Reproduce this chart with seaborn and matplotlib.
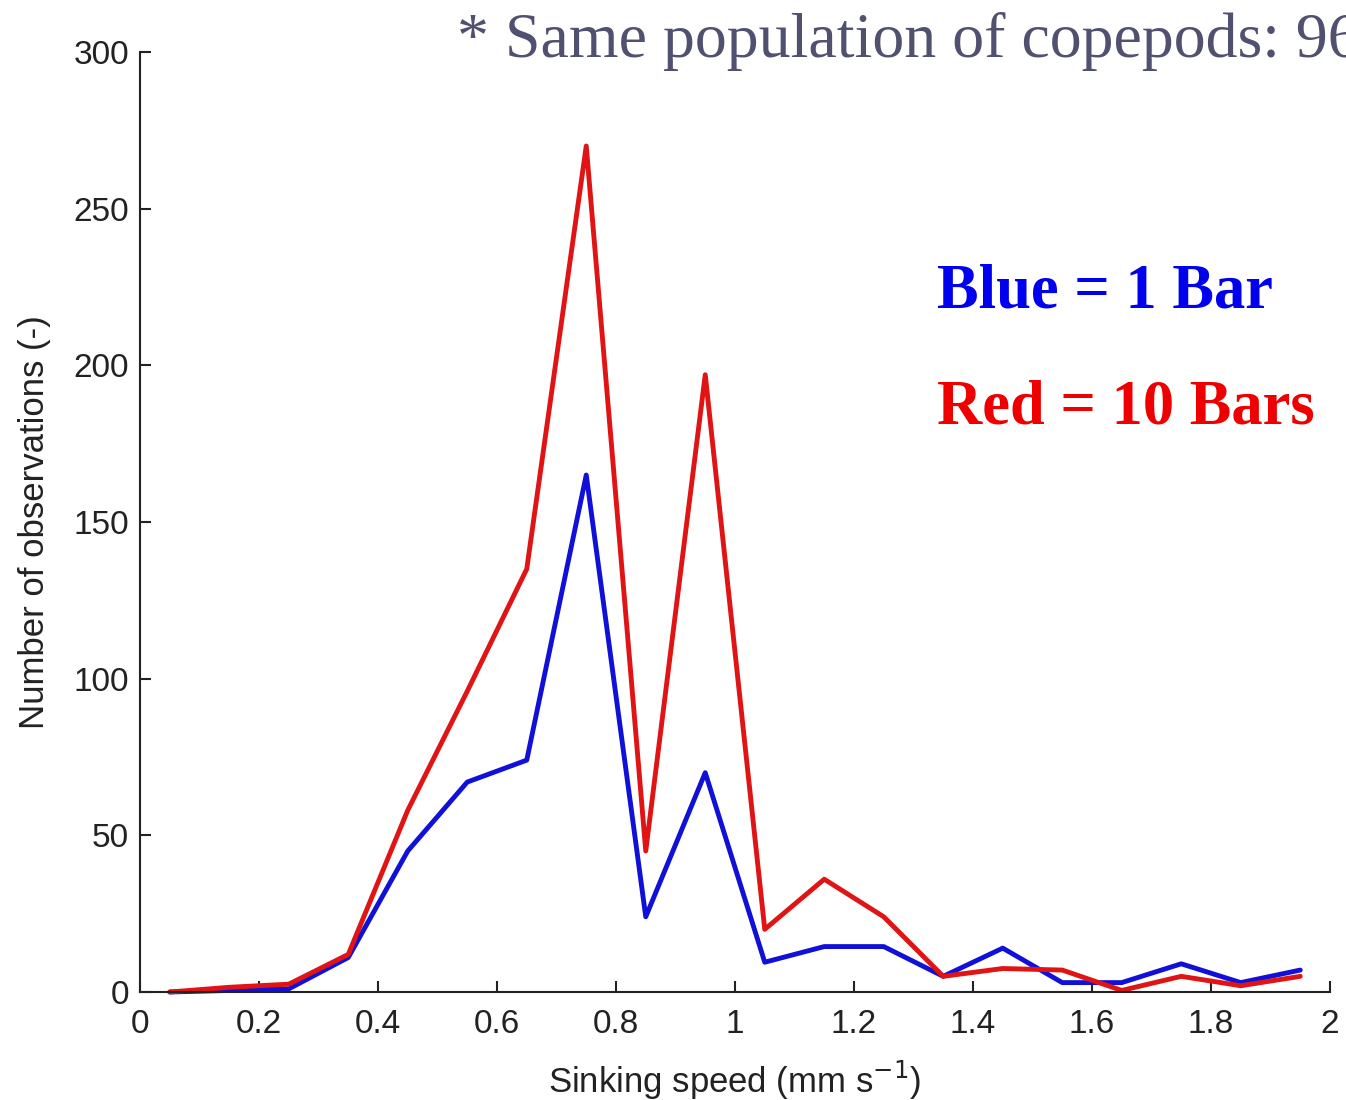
import numpy as np
import pandas as pd
import matplotlib
matplotlib.use("Agg")
import matplotlib.pyplot as plt
import seaborn as sns

speed = [0.05, 0.15, 0.25, 0.35, 0.45, 0.55, 0.65, 0.75, 0.85, 0.95,
         1.05, 1.15, 1.25, 1.35, 1.45, 1.55, 1.65, 1.75, 1.85, 1.95]
blue_1bar = [0, 0.5, 1, 11, 45, 67, 74, 165, 24, 70,
             9.5, 14.5, 14.5, 5, 14, 3, 3, 9, 3, 7]
red_10bars = [0, 1.5, 2.5, 12, 58, 96, 135, 270, 45, 197,
              20, 36, 24, 5, 7.5, 7, 0.5, 5, 2, 5]
series_names = ["1 Bar", "10 Bars"]
xticks = [0, 0.2, 0.4, 0.6, 0.8, 1, 1.2, 1.4, 1.6, 1.8, 2]
xtick_labels = ["0", "0.2", "0.4", "0.6", "0.8", "1", "1.2", "1.4", "1.6", "1.8", "2"]
yticks = [0, 50, 100, 150, 200, 250, 300]

df = pd.DataFrame({
    "speed": speed * 2,
    "count": blue_1bar + red_10bars,
    "series": [series_names[0]] * len(speed) + [series_names[1]] * len(speed),
})

sns.set_style("ticks")
plt.rcParams['font.family'] = ['Liberation Sans', 'DejaVu Sans']
plt.rcParams['xtick.direction'] = 'in'
plt.rcParams['ytick.direction'] = 'in'

fig = plt.figure(figsize=(13.46, 11), dpi=100)
ax = fig.add_axes([140/1346, 108/1100, 1190/1346, 940/1100])

sns.lineplot(data=df, x="speed", y="count", hue="series",
             palette={"1 Bar": "#1010d8", "10 Bars": "#e01414"},
             linewidth=3.5, legend=False, ax=ax, clip_on=False)

ax.set_xlim(0, 2)
ax.set_ylim(0, 300)
ax.set_xticks(xticks)
ax.set_xticklabels(xtick_labels)
ax.set_yticks(yticks)
ax.tick_params(axis='both', labelsize=24, length=8, width=1.5, colors='#222222',
               direction='in')
ax.tick_params(axis='x', pad=12)
ax.tick_params(axis='y', pad=8)
for s in ["top", "right"]:
    ax.spines[s].set_visible(False)
for s in ["left", "bottom"]:
    ax.spines[s].set_linewidth(1.5)
    ax.spines[s].set_color('#222222')

ax.set_xlabel("Sinking speed (mm s$^{-1}$)", fontsize=25, color='#222222', labelpad=14)
ax.set_ylabel("Number of observations (-)", fontsize=25, color='#222222', labelpad=16)

fig.text(457/1346, 1 - 57/1100, "* Same population of copepods: 96",
         fontsize=46, family=['Liberation Serif', 'DejaVu Serif'], color='#505070',
         ha='left', va='baseline')
fig.text(937/1346, 1 - 308/1100, "Blue = 1 Bar", fontsize=45, fontweight='bold',
         family=['Liberation Serif', 'DejaVu Serif'], color='#0000ee',
         ha='left', va='baseline')
fig.text(937/1346, 1 - 423/1100, "Red = 10 Bars", fontsize=45, fontweight='bold',
         family=['Liberation Serif', 'DejaVu Serif'], color='#ee0000',
         ha='left', va='baseline')

fig.savefig("out.png", dpi=100)
